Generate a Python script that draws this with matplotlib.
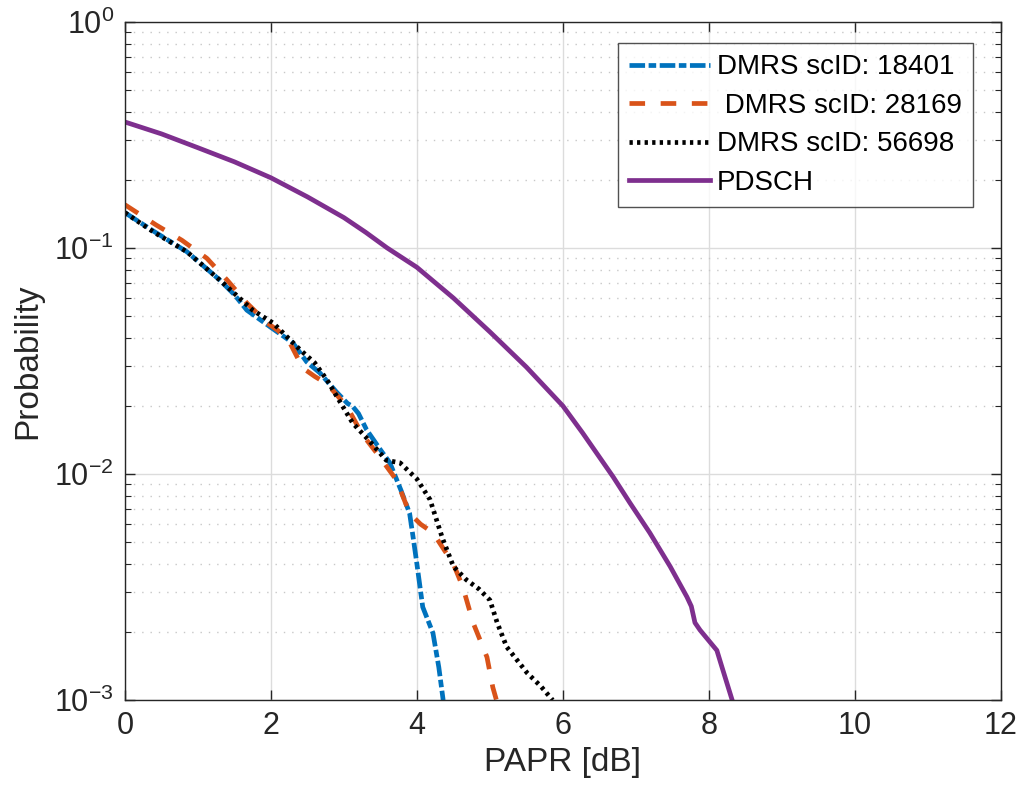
import numpy as np
import matplotlib
matplotlib.use("Agg")
import matplotlib.pyplot as plt
from matplotlib.ticker import LogLocator, NullFormatter

plt.rcParams['font.family'] = ['Liberation Sans', 'DejaVu Sans']
plt.rcParams['mathtext.fontset'] = 'custom'
plt.rcParams['mathtext.rm'] = 'Liberation Sans'

# datos
x_18401 = [0.0, 0.4, 0.85, 1.3, 1.5, 1.67, 1.99, 2.3, 2.49, 2.67, 2.9, 3.05,
           3.12, 3.2, 3.31, 3.5, 3.63, 3.78, 3.9, 3.95, 4.0, 4.08, 4.22, 4.3,
           4.36]
p_18401 = [0.143, 0.118, 0.096, 0.072, 0.062, 0.053, 0.0447, 0.038, 0.0313,
           0.028, 0.023, 0.0205, 0.0199, 0.0185, 0.0157, 0.0128, 0.0112,
           0.0085, 0.0067, 0.0052, 0.0040, 0.00258, 0.00198, 0.0014, 0.001]

x_28169 = [0.0, 0.43, 0.78, 1.12, 1.4, 1.67, 1.95, 2.1, 2.26, 2.4, 2.47, 2.6,
           2.77, 3.04, 3.25, 3.49, 3.72, 3.9, 4.05, 4.22, 4.5, 4.63, 4.77,
           4.96, 5.04, 5.09]
p_28169 = [0.155, 0.126, 0.108, 0.09, 0.072, 0.057, 0.0465, 0.043, 0.038,
           0.031, 0.0289, 0.027, 0.025, 0.0199, 0.015, 0.0119, 0.0094,
           0.0067, 0.006, 0.0055, 0.004, 0.00316, 0.0022, 0.00155, 0.00114,
           0.001]

x_56698 = [0.0, 0.4, 0.85, 1.3, 1.75, 2.03, 2.4, 2.6, 2.77, 3.0, 3.12, 3.35,
           3.58, 3.77, 3.9, 4.0, 4.18, 4.35, 4.5, 4.68, 4.85, 5.0, 5.1, 5.23,
           5.51, 5.7, 5.86]
p_56698 = [0.143, 0.117, 0.096, 0.072, 0.053, 0.0465, 0.0354, 0.031, 0.026,
           0.0195, 0.0168, 0.014, 0.0115, 0.0112, 0.0102, 0.0095, 0.0077,
           0.0052, 0.0039, 0.0034, 0.0031, 0.00277, 0.0022, 0.00172, 0.00132,
           0.00115, 0.001]

x_pdsch = [0.0, 0.5, 1.0, 1.5, 2.0, 2.5, 3.0, 3.3, 3.59, 4.0, 4.5, 5.0, 5.5,
           6.0, 6.27, 6.69, 6.92, 7.19, 7.47, 7.7, 7.76, 7.81, 7.88, 8.11,
           8.18, 8.32]
p_pdsch = [0.36, 0.319, 0.277, 0.240, 0.204, 0.168, 0.136, 0.117, 0.1, 0.082,
           0.060, 0.0425, 0.0297, 0.020, 0.0152, 0.0097, 0.00744, 0.0055,
           0.0039, 0.00286, 0.0026, 0.0022, 0.00204, 0.00166, 0.0014, 0.001]

ticks_x = [0, 2, 4, 6, 8, 10, 12]

fig = plt.figure(figsize=(10.16, 8.02), dpi=100)
ax = fig.add_axes([0.123, 0.127, 0.862, 0.846])

lw = 3.4
ax.semilogy(x_18401, p_18401, color='#0072BD', lw=lw,
            dashes=(3.3, 0.75, 1.6, 0.75), label='DMRS scID: 18401')
ax.semilogy(x_28169, p_28169, color='#D95319', lw=lw,
            dashes=(3.3, 3.3), label=' DMRS scID: 28169')
ax.semilogy(x_56698, p_56698, color='black', lw=lw,
            dashes=(0.7, 0.9), label='DMRS scID: 56698')
ax.semilogy(x_pdsch, p_pdsch, '-', color='#7E2F8E', lw=lw,
            label='PDSCH')

ax.set_xlim(0, 12)
ax.set_ylim(1e-3, 1)
ax.set_xticks(ticks_x)
ax.yaxis.set_major_locator(LogLocator(base=10, numticks=10))
ax.yaxis.set_minor_locator(LogLocator(base=10, subs=np.arange(2, 10), numticks=20))
ax.yaxis.set_minor_formatter(NullFormatter())

ax.grid(True, which='major', color='#dcdcdc', lw=1.0, ls='-')
ax.grid(True, which='minor', axis='y', color='#c8c8c8', lw=1.0, ls=(0, (1, 5)))
ax.set_axisbelow(True)

ax.tick_params(which='both', direction='in', top=True, right=True,
               colors='#262626', labelsize=22)
ax.tick_params(which='major', length=7, width=1, pad=8)
ax.tick_params(which='minor', length=4, width=0.8)
for s in ax.spines.values():
    s.set_color('#262626')
    s.set_linewidth(1.0)

ax.set_xlabel('PAPR [dB]', fontsize=24, color='#262626', labelpad=4)
ax.set_ylabel('Probability', fontsize=24, color='#262626', labelpad=8)

leg = ax.legend(loc='upper right', bbox_to_anchor=(0.968, 0.968), fontsize=20,
                frameon=True, fancybox=False, edgecolor='#262626',
                handlelength=2.9, handletextpad=0.25, borderpad=0.4,
                labelspacing=0.45, borderaxespad=0)
leg.get_frame().set_linewidth(1.0)

plt.savefig('out.png', dpi=100)
